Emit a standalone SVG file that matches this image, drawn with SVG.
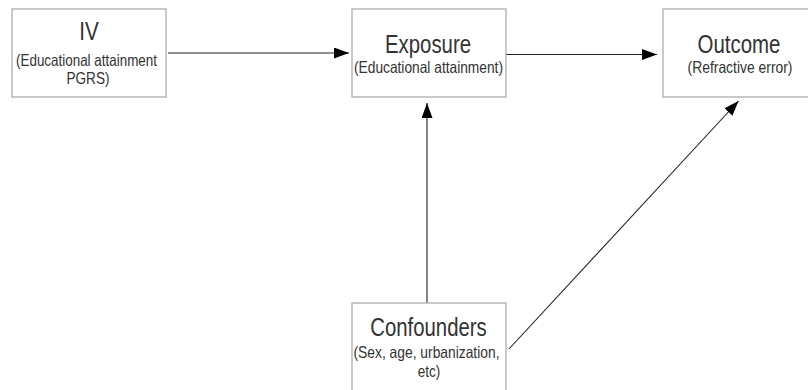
<svg xmlns="http://www.w3.org/2000/svg" width="808" height="390" viewBox="0 0 808 390">
<style>
.box{fill:#fff;stroke:#a6a6a6;stroke-width:1.2}
.t{font-family:"Liberation Sans Narrow","Liberation Sans",Arial,sans-serif;fill:#333;text-anchor:middle}
.big{font-size:25px}
.sm{font-size:16.5px}
.c{stroke:#222;stroke-width:1.1;fill:none;marker-end:url(#ah)}
</style>
<defs>
<marker id="ah" markerUnits="userSpaceOnUse" markerWidth="16" markerHeight="12" refX="15" refY="5.5" orient="auto">
<path d="M0,0 L15,5.5 L0,11 Z" fill="#000"/>
</marker>
</defs>
<rect width="808" height="390" fill="#fff"/>
<g id="connectors">
<line class="c" x1="168" y1="53" x2="349" y2="53"/>
<line class="c" x1="506" y1="54.5" x2="657" y2="54.5"/>
<line class="c" x1="427" y1="303" x2="427" y2="103"/>
<line class="c" x1="509" y1="349" x2="738.5" y2="101"/>
</g>
<g id="iv">
<rect class="box" x="12" y="9" width="154" height="88"/>
<text class="t big" x="89" y="40" textLength="19.5" lengthAdjust="spacingAndGlyphs">IV</text>
<text class="t sm" x="86.5" y="65.5" textLength="141" lengthAdjust="spacingAndGlyphs">(Educational attainment</text>
<text class="t sm" x="88" y="83.5" textLength="43" lengthAdjust="spacingAndGlyphs">PGRS)</text>
</g>
<g id="exposure">
<rect class="box" x="352" y="9" width="154" height="88"/>
<text class="t big" x="428" y="52.5" textLength="86" lengthAdjust="spacingAndGlyphs">Exposure</text>
<text class="t sm" x="428.5" y="72.5" textLength="149" lengthAdjust="spacingAndGlyphs">(Educational attainment)</text>
</g>
<g id="outcome">
<rect class="box" x="663" y="9" width="154" height="88"/>
<text class="t big" x="739" y="52.5" textLength="83" lengthAdjust="spacingAndGlyphs">Outcome</text>
<text class="t sm" x="740" y="72.5" textLength="105" lengthAdjust="spacingAndGlyphs">(Refractive error)</text>
</g>
<g id="confounders">
<rect class="box" x="352" y="303" width="154" height="95"/>
<text class="t big" x="428.5" y="336" textLength="116.5" lengthAdjust="spacingAndGlyphs">Confounders</text>
<text class="t sm" x="426.5" y="357.5" textLength="146" lengthAdjust="spacingAndGlyphs">(Sex, age, urbanization,</text>
<text class="t sm" x="429" y="376.5" textLength="22.5" lengthAdjust="spacingAndGlyphs">etc)</text>
</g>
</svg>
